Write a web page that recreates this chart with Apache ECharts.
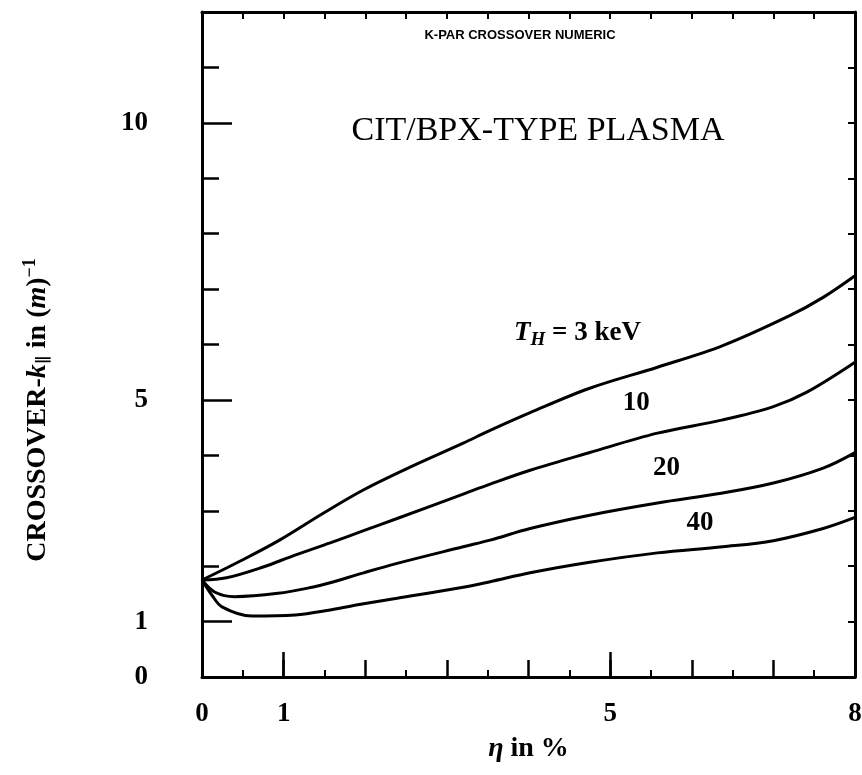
<!DOCTYPE html>
<html>
<head>
<meta charset="utf-8">
<script src="https://cdn.jsdelivr.net/npm/echarts@6/dist/echarts.min.js"></script>
<style>
  html, body { margin: 0; padding: 0; background: #fff; }
  #chart { width: 862px; height: 775px; }
</style>
</head>
<body>
<div id="chart"></div>
<script>
// eta (%) and crossover k (1/m), one pair of arrays per T_H
var eta3  = [0, 0.44, 0.95, 1.48, 1.97, 2.51, 3.2, 3.53, 4.02, 4.75, 5.58, 6.38, 7.2, 7.61, 8];
var k3    = [1.75, 2.07, 2.47, 2.95, 3.37, 3.76, 4.22, 4.45, 4.77, 5.21, 5.59, 5.98, 6.52, 6.85, 7.24];

var eta10 = [0, 0.3, 0.74, 1.14, 1.57, 1.98, 2.39, 3.2, 3.53, 4.02, 4.75, 5.58, 6.38, 7.0, 7.41, 8];
var k10   = [1.75, 1.79, 1.98, 2.2, 2.42, 2.64, 2.86, 3.3, 3.48, 3.73, 4.05, 4.40, 4.64, 4.88, 5.14, 5.68];

var eta20 = [0, 0.16, 0.4, 0.93, 1.35, 1.57, 1.98, 2.39, 3.2, 3.53, 4.02, 4.75, 5.58, 6.38, 7.0, 7.61, 8];
var k20   = [1.75, 1.53, 1.45, 1.51, 1.62, 1.70, 1.88, 2.05, 2.35, 2.47, 2.68, 2.92, 3.14, 3.32, 3.5, 3.77, 4.05];

var eta40 = [0, 0.12, 0.25, 0.61, 1.14, 1.57, 1.98, 2.39, 3.2, 3.53, 4.02, 4.75, 5.58, 6.38, 7.0, 7.61, 8];
var k40   = [1.75, 1.48, 1.26, 1.10, 1.12, 1.21, 1.32, 1.42, 1.62, 1.72, 1.88, 2.07, 2.24, 2.35, 2.46, 2.68, 2.88];

var xLabels = [0, 1, 5, 8];
var yLabels = [0, 1, 5, 10];

var serif = 'Liberation Serif';
var black = '#000';

function zip(xs, ys) {
    return xs.map(function (x, i) { return [x, ys[i]]; });
}

// curve label, sits at a data coordinate
function tag(coord, text) {
    return {
        data: [{ coord: coord }],
        symbol: 'circle',
        symbolSize: 1,
        itemStyle: { color: 'rgba(0,0,0,0)' },
        silent: true,
        animation: false,
        label: {
            show: true,
            position: 'inside',
            formatter: text,
            color: black,
            fontFamily: serif,
            fontWeight: 'bold',
            fontSize: 27,
            rich: {
                it: { fontFamily: serif, fontStyle: 'italic', fontWeight: 'bold', fontSize: 27, color: black },
                sub: { fontFamily: serif, fontStyle: 'italic', fontWeight: 'bold', fontSize: 19, color: black, padding: [14, 0, 0, 0] },
                b: { fontFamily: serif, fontWeight: 'bold', fontSize: 27, color: black }
            }
        }
    };
}

function curve(name, xs, ys, label) {
    return {
        name: name,
        type: 'line',
        data: zip(xs, ys),
        showSymbol: false,
        smooth: 0.35,
        silent: true,
        lineStyle: { color: black, width: 3 },
        markPoint: label
    };
}

var tickLine = { color: black, width: 2.5 };

var chart = echarts.init(document.getElementById('chart'));

chart.setOption({
    animation: false,
    backgroundColor: '#fff',
    grid: { left: 202, right: 7, top: 12, bottom: 98, containLabel: false, outerBoundsMode: 'none' },
    xAxis: [{
        type: 'value', min: 0, max: 8, interval: 1, position: 'bottom',
        axisLine: { show: true, onZero: false, lineStyle: { color: black, width: 3 } },
        axisTick: { inside: true, length: 17, lineStyle: tickLine },
        minorTick: { show: true, splitNumber: 2, length: 7, lineStyle: { color: black, width: 2 } },
        splitLine: { show: false },
        axisLabel: {
            customValues: xLabels, margin: 24, color: black,
            fontFamily: serif, fontWeight: 'bold', fontSize: 27
        },
        name: '{i|η}{b| in %}',
        nameLocation: 'middle',
        nameGap: 58,
        nameTextStyle: {
            rich: {
                i: { fontFamily: serif, fontStyle: 'italic', fontWeight: 'bold', fontSize: 28, color: black },
                b: { fontFamily: serif, fontWeight: 'bold', fontSize: 28, color: black }
            }
        }
    }, {
        // long ticks at 1 and 5
        type: 'value', min: 0, max: 8, position: 'bottom',
        axisLine: { show: false },
        axisTick: { customValues: [1, 5], inside: true, length: 25, lineStyle: tickLine },
        axisLabel: { show: false },
        splitLine: { show: false }
    }, {
        type: 'value', min: 0, max: 8, interval: 0.5, position: 'top',
        axisLine: { show: true, onZero: false, lineStyle: { color: black, width: 3 } },
        axisTick: { inside: true, length: 7, lineStyle: { color: black, width: 2 } },
        axisLabel: { show: false },
        splitLine: { show: false }
    }],
    yAxis: [{
        type: 'value', min: 0, max: 12, interval: 1, position: 'left',
        axisLine: { show: true, onZero: false, lineStyle: { color: black, width: 3 } },
        axisTick: { inside: true, length: 17, lineStyle: tickLine },
        splitLine: { show: false },
        axisLabel: {
            customValues: yLabels, margin: 54, color: black,
            fontFamily: serif, fontWeight: 'bold', fontSize: 27
        }
    }, {
        // long ticks at 1, 5, 10
        type: 'value', min: 0, max: 12, position: 'left',
        axisLine: { show: false },
        axisTick: { customValues: [1, 5, 10], inside: true, length: 30, lineStyle: tickLine },
        axisLabel: { show: false },
        splitLine: { show: false }
    }, {
        type: 'value', min: 0, max: 12, interval: 1, position: 'right',
        axisLine: { show: true, onZero: false, lineStyle: { color: black, width: 3 } },
        axisTick: { inside: true, length: 7, lineStyle: { color: black, width: 2 } },
        axisLabel: { show: false },
        splitLine: { show: false }
    }],
    graphic: [{
        type: 'text',
        x: 520, y: 35,
        silent: true,
        style: {
            text: 'K-PAR CROSSOVER NUMERIC',
            align: 'center', verticalAlign: 'middle',
            fontFamily: 'Liberation Sans', fontWeight: 'bold', fontSize: 13, fill: black
        }
    }, {
        type: 'text',
        x: 538, y: 131,
        silent: true,
        style: {
            text: 'CIT/BPX-TYPE PLASMA',
            align: 'center', verticalAlign: 'middle',
            fontFamily: serif, fontSize: 34, fill: black
        }
    }, {
        type: 'text',
        x: 38, y: 410,
        rotation: Math.PI / 2,
        silent: true,
        style: {
            text: '{b|CROSSOVER-}{i|k}{sub|∥}{b| in (}{i|m}{b|)}{sup|−1}',
            align: 'center', verticalAlign: 'middle',
            rich: {
                b: { fontFamily: serif, fontWeight: 'bold', fontSize: 28, fill: black },
                i: { fontFamily: serif, fontStyle: 'italic', fontWeight: 'bold', fontSize: 28, fill: black },
                sub: { fontFamily: 'DejaVu Serif', fontWeight: 'bold', fontSize: 17, fill: black, padding: [14, 0, 0, 0] },
                sup: { fontFamily: serif, fontWeight: 'bold', fontSize: 18, fill: black, padding: [0, 0, 16, 0] }
            }
        }
    }],
    series: [
        curve('3 keV', eta3, k3, tag([4.6, 6.2], '{it|T}{sub|H}{b| = 3 keV}')),
        curve('10', eta10, k10, tag([5.32, 4.95], '10')),
        curve('20', eta20, k20, tag([5.69, 3.77], '20')),
        curve('40', eta40, k40, tag([6.10, 2.77], '40'))
    ]
});
</script>
</body>
</html>
